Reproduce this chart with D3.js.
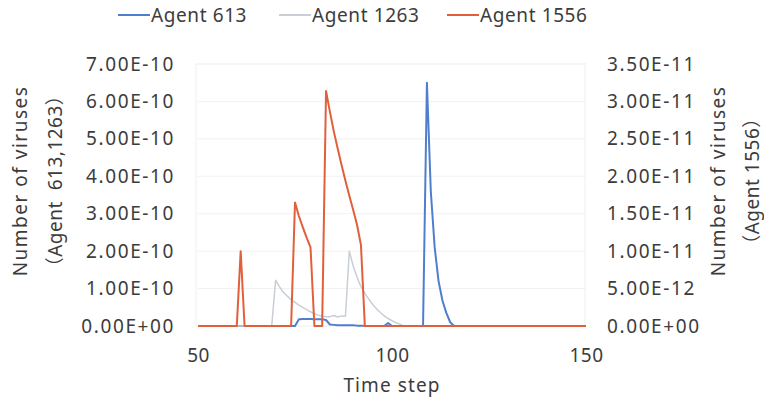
<!DOCTYPE html>
<html>
<head>
<meta charset="utf-8">
<script src="https://cdn.jsdelivr.net/npm/d3@7"></script>
<style>
  html, body { margin: 0; padding: 0; background: #ffffff; }
  svg { display: block; }
  text { font-family: "Noto Sans", "Noto Sans CJK JP", sans-serif; fill: #3c3c3c; }
</style>
</head>
<body>
<svg id="chart" width="764" height="409"></svg>
<script>
// Time steps on the x axis
const firstStep = 50, lastStep = 150;
const steps = d3.range(firstStep, lastStep + 1);

// Virus counts per time step, t = 50 .. 150
// Agent 613 and Agent 1263 in units of 1e-10 (left axis)
const agent613 = [
  0, 0, 0, 0, 0, 0, 0, 0, 0, 0,                 // 50-59
  0, 0, 0, 0, 0, 0, 0, 0, 0, 0,                 // 60-69
  0, 0, 0, 0, 0, 0, 0.18, 0.19, 0.19, 0.19,     // 70-79
  0.18, 0.18, 0.18, 0.16, 0.04, 0.03, 0.02, 0.02, 0.02, 0.02, // 80-89
  0.02, 0.01, 0.01, 0, 0, 0, 0, 0, 0, 0.08,     // 90-99
  0, 0, 0, 0, 0, 0, 0, 0, 0, 6.5,               // 100-109
  3.6, 2.1, 1.2, 0.68, 0.35, 0.1, 0, 0, 0, 0,   // 110-119
  0, 0, 0, 0, 0, 0, 0, 0, 0, 0,                 // 120-129
  0, 0, 0, 0, 0, 0, 0, 0, 0, 0,                 // 130-139
  0, 0, 0, 0, 0, 0, 0, 0, 0, 0,                 // 140-149
  0                                             // 150
];
const agent1263 = [
  0, 0, 0, 0, 0, 0, 0, 0, 0, 0,                 // 50-59
  0, 0, 0, 0, 0, 0, 0, 0, 0, 0,                 // 60-69
  1.22, 1.05, 0.9, 0.8, 0.7, 0.63, 0.56, 0.5, 0.44, 0.38, // 70-79
  0.33, 0.29, 0.26, 0.25, 0.25, 0.28, 0.24, 0.27, 0.26, 2.0, // 80-89
  1.6, 1.3, 1.05, 0.88, 0.72, 0.58, 0.46, 0.36, 0.27, 0.2, // 90-99
  0.14, 0.09, 0.05, 0, 0, 0, 0, 0, 0, 0,        // 100-109
  0, 0, 0, 0, 0, 0, 0, 0, 0, 0,                 // 110-119
  0, 0, 0, 0, 0, 0, 0, 0, 0, 0,                 // 120-129
  0, 0, 0, 0, 0, 0, 0, 0, 0, 0,                 // 130-139
  0, 0, 0, 0, 0, 0, 0, 0, 0, 0,                 // 140-149
  0                                             // 150
];
// Agent 1556 in units of 1e-11 (right axis)
const agent1556 = [
  0, 0, 0, 0, 0, 0, 0, 0, 0, 0,                 // 50-59
  0, 1.0, 0, 0, 0, 0, 0, 0, 0, 0,               // 60-69
  0, 0, 0, 0, 0, 1.65, 1.47, 1.32, 1.18, 1.05,  // 70-79
  0, 0, 0, 3.14, 2.86, 2.6, 2.37, 2.15, 1.94, 1.74, // 80-89
  1.55, 1.35, 1.08, 0, 0, 0, 0, 0, 0, 0,        // 90-99
  0, 0, 0, 0, 0, 0, 0, 0, 0, 0,                 // 100-109
  0, 0, 0, 0, 0, 0, 0, 0, 0, 0,                 // 110-119
  0, 0, 0, 0, 0, 0, 0, 0, 0, 0,                 // 120-129
  0, 0, 0, 0, 0, 0, 0, 0, 0, 0,                 // 130-139
  0, 0, 0, 0, 0, 0, 0, 0, 0, 0,                 // 140-149
  0                                             // 150
];
const unitLeft = 1e-10, unitRight = 1e-11;

// Axis ticks
const xTicks = [50, 100, 150];
const leftTicks = [0, 1e-10, 2e-10, 3e-10, 4e-10, 5e-10, 6e-10, 7e-10];
const leftTickLabels = ["0.00E+00", "1.00E-10", "2.00E-10", "3.00E-10", "4.00E-10", "5.00E-10", "6.00E-10", "7.00E-10"];
const rightTicks = [0, 5e-12, 1e-11, 1.5e-11, 2e-11, 2.5e-11, 3e-11, 3.5e-11];
const rightTickLabels = ["0.00E+00", "5.00E-12", "1.00E-11", "1.50E-11", "2.00E-11", "2.50E-11", "3.00E-11", "3.50E-11"];

const seriesNames = ["Agent 613", "Agent 1263", "Agent 1556"];
const seriesColors = ["#4f7fcc", "#c9ced6", "#e0603c"];

const svg = d3.select("#chart");
const plot = { left: 198, right: 586, top: 64, bottom: 326 };

const x = d3.scaleLinear().domain([firstStep, lastStep]).range([plot.left, plot.right]);
const yLeft = d3.scaleLinear().domain([0, 7e-10]).range([plot.bottom, plot.top]);
const yRight = d3.scaleLinear().domain([0, 3.5e-11]).range([plot.bottom, plot.top]);

// Gridlines
svg.append("g")
  .selectAll("line")
  .data(leftTicks.slice(1))
  .join("line")
  .attr("x1", plot.left).attr("x2", plot.right)
  .attr("y1", d => yLeft(d)).attr("y2", d => yLeft(d))
  .attr("stroke", "#f1f1f1").attr("stroke-width", 1);

// Plot frame
svg.append("rect")
  .attr("x", plot.left - 2).attr("y", plot.top)
  .attr("width", plot.right - plot.left + 1).attr("height", plot.bottom - plot.top)
  .attr("fill", "none").attr("stroke", "#efefef").attr("stroke-width", 1);

// Axes
const tickFont = 19;
function styleTicks(spacing) {
  return g => {
    g.select(".domain").remove();
    g.selectAll("text").style("font-size", tickFont + "px")
      .style("letter-spacing", spacing + "px")
      .attr("fill", "#3c3c3c").attr("font-family", null);
  };
}
const leftAxis = d3.axisLeft(yLeft).tickValues(leftTicks)
  .tickFormat((d, i) => leftTickLabels[i]).tickSize(0).tickPadding(0);
svg.append("g").attr("transform", `translate(${plot.left - 23},0)`).call(leftAxis).call(styleTicks(1.6));

const rightAxis = d3.axisRight(yRight).tickValues(rightTicks)
  .tickFormat((d, i) => rightTickLabels[i]).tickSize(0).tickPadding(0);
svg.append("g").attr("transform", `translate(${plot.right + 21},0)`).call(rightAxis).call(styleTicks(1.6));

const bottomAxis = d3.axisBottom(x).tickValues(xTicks).tickFormat(d3.format("d")).tickSize(0).tickPadding(0);
svg.append("g").attr("transform", `translate(0,${plot.bottom + 22})`).call(bottomAxis).call(styleTicks(0.5));

// Axis titles
const titleFont = 19;
function title(tx, ty, rot, label, spacing) {
  svg.append("text").attr("transform", `translate(${tx},${ty}) rotate(${rot})`)
    .attr("text-anchor", "middle").style("font-size", titleFont + "px")
    .style("letter-spacing", spacing + "px").text(label);
}
title(27, 181, -90, "Number of viruses", 1.5);
title(62, 181, -90, "\uFF08Agent\u00A0\u00A0613,1263\uFF09", 0.5);
title(725, 181, -90, "Number of viruses", 1.5);
title(759, 181, -90, "\uFF08Agent 1556\uFF09", 0.5);
title((plot.left + plot.right) / 2, 392, 0, "Time step", 1.1);

// Series lines
const lineLeft = d3.line().x((d, i) => x(steps[i])).y(d => yLeft(d * unitLeft));
const lineRight = d3.line().x((d, i) => x(steps[i])).y(d => yRight(d * unitRight));

svg.append("path").datum(agent613).attr("d", lineLeft)
  .attr("fill", "none").attr("stroke", seriesColors[0]).attr("stroke-width", 2).attr("stroke-linejoin", "round");
svg.append("path").datum(agent1263).attr("d", lineLeft)
  .attr("fill", "none").attr("stroke", seriesColors[1]).attr("stroke-width", 1.5).attr("stroke-linejoin", "round");
svg.append("path").datum(agent1556).attr("d", lineRight)
  .attr("fill", "none").attr("stroke", seriesColors[2]).attr("stroke-width", 2).attr("stroke-linejoin", "round");

// Legend
const legendItems = [
  { x: 118, name: seriesNames[0], color: seriesColors[0] },
  { x: 279, name: seriesNames[1], color: seriesColors[1] },
  { x: 447, name: seriesNames[2], color: seriesColors[2] }
];
const lg = svg.append("g").selectAll("g").data(legendItems).join("g")
  .attr("transform", d => `translate(${d.x},15)`);
lg.append("line").attr("x1", 0).attr("x2", 32).attr("y1", 0).attr("y2", 0)
  .attr("stroke", d => d.color).attr("stroke-width", 2);
lg.append("text").attr("x", 33).attr("y", 0).attr("dy", "0.35em")
  .style("font-size", "19px").style("letter-spacing", "0.6px").text(d => d.name);
</script>
</body>
</html>
